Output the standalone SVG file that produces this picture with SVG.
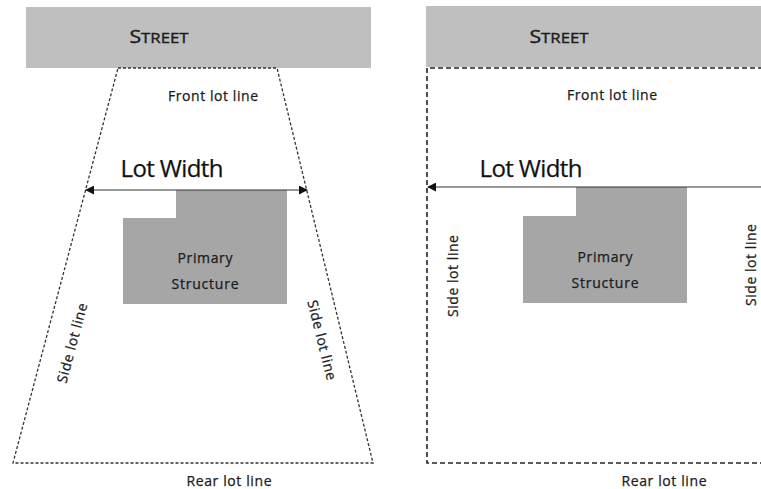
<svg xmlns="http://www.w3.org/2000/svg" width="761" height="489" viewBox="0 0 761 489">
<defs>
<style>
.street{fill:#bfbfbf}
.bldg{fill:#a6a6a6}
.t{font-family:"Open Sans","Liberation Sans",sans-serif;fill:#1a1a1a;text-anchor:middle;stroke:#1a1a1a;stroke-width:0.25}
.s{font-size:14px}
.lw{font-size:24px;fill:#111}
.st{font-size:19px;fill:#1a1a1a;stroke-width:0.4}
.lot{fill:none;stroke:#333;stroke-width:1.3;stroke-dasharray:3 2}
.lot2{fill:none;stroke:#222;stroke-width:1.6;stroke-dasharray:5 3}
.dim{stroke:#333;stroke-width:1.2;fill:none}
</style>
<marker id="ah" viewBox="0 0 10 10" refX="9" refY="5" markerWidth="9" markerHeight="9" markerUnits="userSpaceOnUse" orient="auto-start-reverse">
<path d="M0,0 L10,5 L0,10 z" fill="#111"/>
</marker>
</defs>

<!-- Left panel -->
<g id="street-left">
<rect class="street" x="26" y="7" width="345" height="61"/>
<text class="t st" x="159" y="43" textLength="59" lengthAdjust="spacingAndGlyphs">S<tspan font-size="15">TREET</tspan></text>
</g>
<g id="lot-left">
<polygon class="lot" points="118,68 277,68 373,463 13,463"/>
<text class="t s" x="213" y="101" textLength="90">Front lot line</text>
<text class="t s" x="229" y="486" textLength="85">Rear lot line</text>
<text class="t s" transform="translate(72,343) rotate(-75)" y="5" textLength="82">Side lot line</text>
<text class="t s" transform="translate(322,340) rotate(76)" y="5" textLength="82">Side lot line</text>
</g>
<g id="structure-left">
<path class="bldg" d="M176,190 H287 V304 H123 V218 H176 Z"/>
<text class="t s" x="205" y="263" textLength="55">Primary</text>
<text class="t s" x="205" y="289" textLength="67">Structure</text>
</g>
<g id="width-left">
<text class="t lw" x="172" y="177" textLength="103">Lot Width</text>
</g>

<!-- Right panel -->
<g id="street-right">
<rect class="street" x="426" y="6" width="345" height="61"/>
<text class="t st" x="559" y="43" textLength="59" lengthAdjust="spacingAndGlyphs">S<tspan font-size="15">TREET</tspan></text>
</g>
<g id="lot-right">
<path class="lot2" d="M763,68 H427 V463 H763"/>
<text class="t s" x="612" y="100" textLength="90">Front lot line</text>
<text class="t s" x="664" y="486" textLength="85">Rear lot line</text>
<text class="t s" transform="translate(453,276) rotate(-90)" y="5" textLength="82">Side lot line</text>
<text class="t s" transform="translate(751,265) rotate(-90)" y="5" textLength="82">Side lot line</text>
</g>
<g id="structure-right">
<path class="bldg" d="M576,187 H687 V303 H523 V216 H576 Z"/>
<text class="t s" x="605" y="262" textLength="55">Primary</text>
<text class="t s" x="605" y="288" textLength="67">Structure</text>
</g>
<g id="width-right">
<text class="t lw" x="531" y="177" textLength="103">Lot Width</text>
</g>

<g id="connectors">
<line class="dim" x1="86" y1="190" x2="307" y2="190" marker-start="url(#ah)" marker-end="url(#ah)"/>
<line class="dim" x1="761" y1="187" x2="428" y2="187" marker-end="url(#ah)"/>
</g>
</svg>
